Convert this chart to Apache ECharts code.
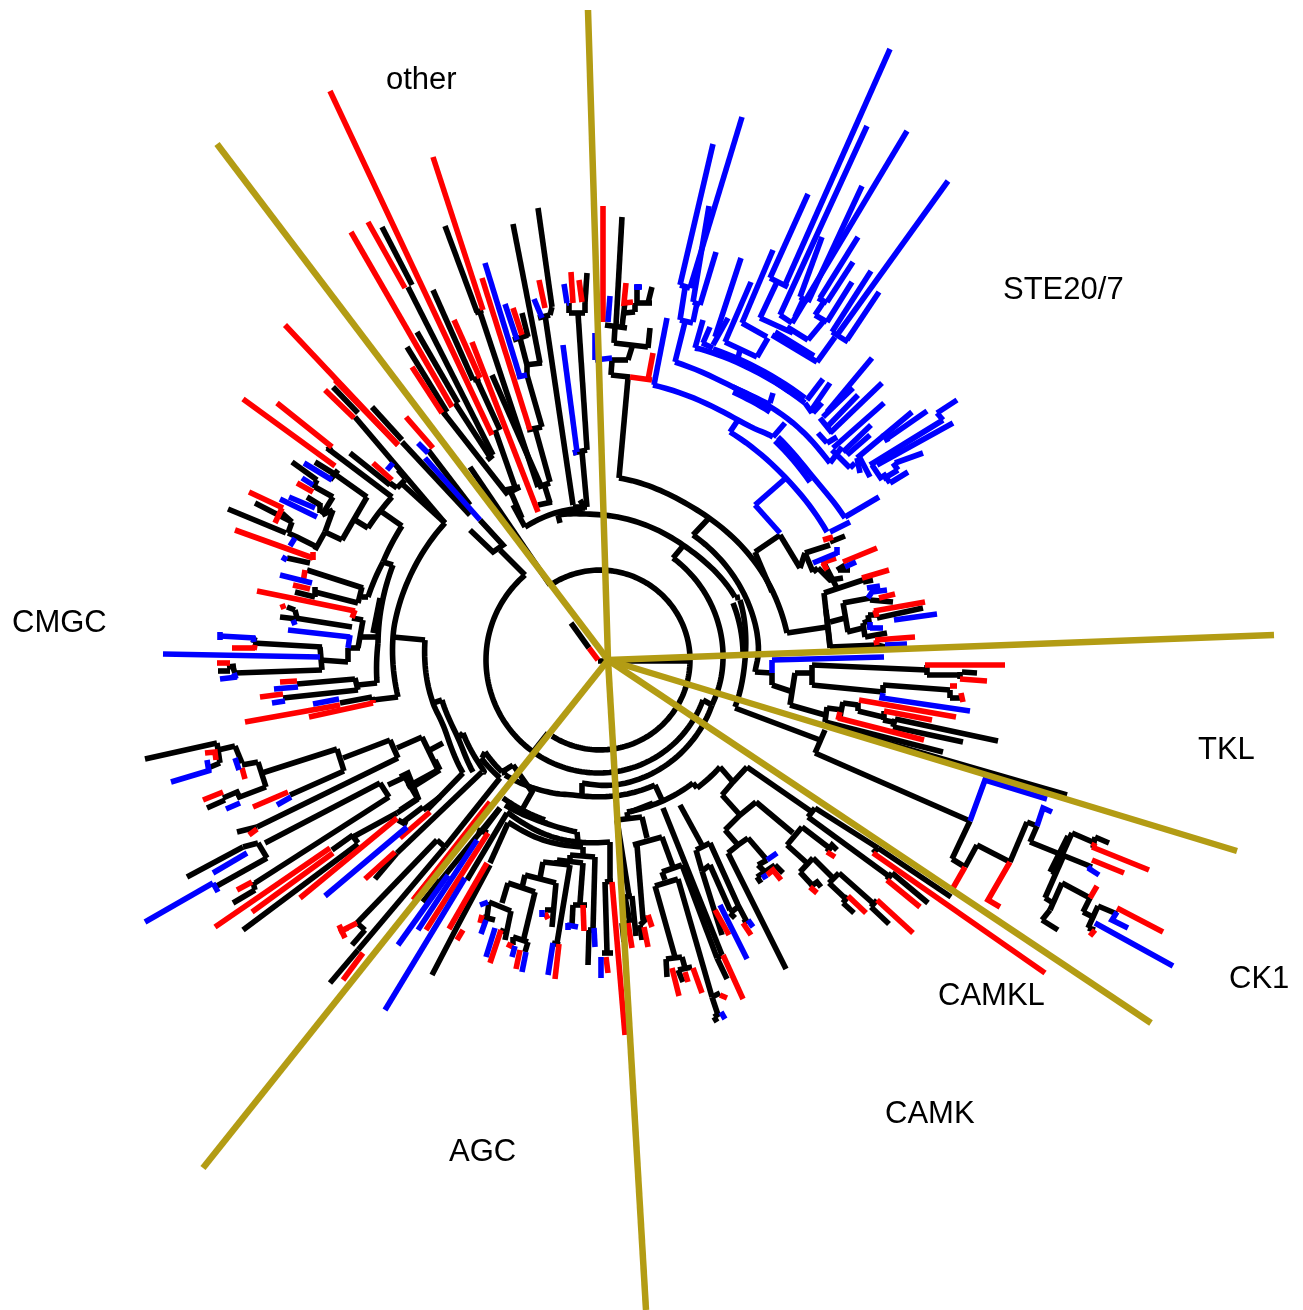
<!DOCTYPE html>
<html><head><meta charset="utf-8">
<style>html,body{margin:0;padding:0;background:#fff}#c{width:1303px;height:1310px}</style>
<script src="https://cdn.jsdelivr.net/npm/echarts@6/dist/echarts.min.js"></script></head>
<body><div id="c"></div>
<script>
const rootNode = [600,660];
const dividerHub = [608,660];
const cladeNames = ['other','STE20/7','CMGC','TKL','CK1','CAMKL','CAMK','AGC'];
const cladeLabelAt = [[386,80],[1003,290],[12,623],[1198,750],[1229,979],[938,996],[885,1114],[449,1152]];
const dividerEnds = [[588,10],[217,144],[1274,635],[1237,851],[1151,1023],[646,1310],[203,1168]];

const blackArcs = [
[690,660,552,584],
[690,660,552,736],
[673,558,723,660,712,705],
[703,700,600,773,486,660,525,575],
[712,705,630,782,582,783],
[505,775,553,793,582,796,655,785],
[627,812,693,783],
[697,788,720,767],
[558,515,603,515,683,545,735,597],
[525,527,555,513,585,508],
[619,478,697,510,773,592,787,633],
[693,535,757,633,755,672],
[740,600,745,660,735,707],
[733,603,743,653],
[398,697,393,637,397,613,413,570,445,523],
[425,640,427,680,433,703,445,730,463,773],
[442,700,458,738,473,772],
[463,733,482,768,483,772],
[485,752,502,772],
[481,758,500,778],
[503,798,545,820],
[505,805,545,823,577,832],
[507,812,547,835,578,842,610,842],
[508,822,543,840,583,847],
[378,643,377,683],
[393,565,378,643],
[383,562,368,597],
[392,497,368,528],
[402,526,383,562]
];
const blackBranches = [
[598,661,690,661],[589,648,571,623],[550,585,470,467],[548,733,533,752],[712,705,703,700],[673,558,683,546],
[582,783,582,795],[655,785,662,800],[693,783,697,788],[720,767,733,782],[722,795,733,782,747,767],
[747,767,812,812],[722,795,740,815],[725,830,740,815,756,802],[725,830,738,845],[728,853,738,845,748,838],
[728,853,786,969],[748,838,767,860],[758,865,767,860],[758,865,765,872],[757,877,775,865],[775,865,783,873],[757,877,761,883],
[756,802,793,833],[787,845,802,827],[802,827,832,850],[827,852,832,845,837,850],[787,845,807,863],[800,872,813,858],
[800,872,812,885],[810,887,817,882,821,887],[813,858,833,878],[829,883,839,873],[829,883,847,900],[843,903,848,896],[843,903,854,913],
[839,873,875,905],[871,907,877,900],[871,907,889,924],[808,817,815,808],[808,817,890,877],[887,880,892,873],[892,873,928,903],
[815,808,878,848],[873,853,878,848],[878,848,951,897],
[663,808,722,955],[680,805,703,847],[696,850,710,843],[710,843,738,905,747,922],[730,913,738,907],[730,913,735,918],[743,923,748,920],
[696,850,702,871],[702,871,710,865],[710,865,730,910],[702,871,722,935],
[682,865,717,958],[717,958,722,955],[717,958,727,979],
[630,812,653,803],[617,820,642,817],[642,817,647,838],[633,845,662,837],[662,837,673,867],[662,872,682,865],
[678,879,712,997],[712,997,720,993],[712,997,718,1015],[714,1017,720,1013],[714,1017,717,1022],
[662,872,665,880],[655,886,678,879],[655,886,675,957],[666,959,682,957],[666,959,667,977],[682,957,685,968],[678,970,692,967],[678,970,683,982],
[637,845,643,920],[640,925,648,917],[640,925,642,940],
[627,812,628,818],[617,820,629,896],[625,897,632,896],[632,896,636,936],[625,897,630,923],[622,923,630,923],[622,923,624,942],
[610,842,610,880],[605,882,613,881],[605,882,607,952],[602,953,613,953],
[583,847,583,855],[570,855,595,857],[595,857,593,930],[588,930,595,930],[589,930,588,965],
[570,855,570,862],[557,860,583,863],[583,863,580,903],[573,905,587,905],[573,905,572,925],
[557,860,557,866],[543,862,570,865],[570,865,557,943],[552,943,560,945],
[543,862,540,878],[525,875,556,883],[556,883,552,927],[545,910,555,910],
[525,875,522,888],[508,883,535,892],[535,892,523,942],[513,937,528,942],[528,942,525,952],[513,937,513,945],
[508,883,502,903],[489,902,511,911],[511,911,505,940],[500,930,508,933],[489,902,487,917],[483,917,495,920],
[513,765,532,792,523,808],[458,738,463,733],[482,758,485,752],[502,772,505,770,510,767,513,765],[503,768,505,775],
[545,820,544,825],[577,832,578,842],
[507,813,467,880],[500,808,482,832],[477,830,488,833],[508,823,490,863],[490,865,457,927,432,975],
[423,902,500,808],
[437,840,357,923],[437,840,445,847],[365,930,352,945],[357,923,365,930],[445,847,358,950],[358,950,330,983],[440,880,423,902],
[145,759,217,743],[217,743,220,763],[208,768,220,763],[218,750,235,746],[235,746,242,763],[242,765,258,762],[258,762,266,787],
[237,798,266,787],[207,808,225,800],[223,798,237,792,240,798],
[262,773,337,749],[337,749,344,771],[344,771,290,795],
[343,758,390,740],[390,740,398,758],[398,758,257,827],[257,827,237,832],
[397,748,422,737],[422,737,438,770],[438,770,407,787],[430,750,443,743],
[380,783,389,797],[380,783,265,843],[243,847,187,877],[243,847,258,843],[258,843,267,858],[267,858,215,887],
[389,797,255,883],[255,890,233,903],[253,882,255,890],
[388,785,405,777],[405,777,418,799],[418,799,397,813],[397,813,353,837],[353,835,332,850],[352,835,358,843],[358,844,243,930],
[398,820,407,825],[423,807,402,823],[440,797,423,810],[397,853,375,879],
[463,773,427,810],[482,772,397,853],[500,778,445,847],[435,760,440,770],[440,770,413,787],[400,777,408,773,418,798,400,810],
[433,703,442,700],
[340,703,372,697],[372,697,373,703],[373,700,398,697],[393,637,425,640],
[373,633,380,598],[375,633,381,600],[377,683,358,685],[355,678,358,690],[297,684,355,679],[283,698,358,690],
[383,562,393,565],[362,597,368,597],[362,587,358,603],[363,588,307,570],[310,563,287,558],[358,603,315,592],[315,587,315,597],[295,592,315,597],
[352,618,363,620],[363,620,358,648],[350,648,360,648],[348,648,348,662],[320,660,348,662],[320,647,322,670],[253,643,322,647],[322,670,235,673],
[352,627,295,618],[295,610,297,618],[295,610,287,607],[280,617,297,619],[255,637,253,643],[232,665,235,673],[227,667,236,666],[218,671,230,671],[362,637,378,637],
[382,512,402,526],[392,497,327,448],[327,450,332,447],[368,528,355,520],[367,497,342,540],[367,497,336,475],
[338,470,330,480],[315,462,336,475],[292,462,317,480],[317,480,313,488],[315,487,333,497],[333,497,322,515],[307,497,320,505],[320,503,320,513],
[342,540,325,532],[325,532,333,510],[333,510,322,515],[325,532,315,550],[317,547,297,537,288,533],[288,533,292,522],[286,533,228,509],[292,522,255,503],[282,513,292,522],
[350,453,390,485],[390,483,397,488],[397,488,405,480],[405,478,398,470],[400,482,445,523],
[333,387,358,413],[355,417,445,523],[372,407,402,440],[402,442,470,515],[428,450,470,505],
[470,530,493,552,503,545,480,520],[500,550,525,575],[513,505,525,527],[580,500,585,508],[558,515,560,523],
[433,290,473,380],[477,380,500,430],[475,313,483,310],[445,226,477,312],[480,312,538,487],
[382,227,412,285],[408,287,493,455],[487,460,493,455],[417,332,458,403],[407,347,447,412],[443,412,508,495],[455,403,490,457],[508,493,520,487],[473,380,480,378],[447,412,442,414],
[513,224,540,363],[538,208,552,307],[538,318,550,315],[545,315,573,505],[552,307,550,315],[513,340,528,335],[522,313,528,337],[520,338,527,365],[525,365,542,363],[527,365,527,375],[527,375,542,427],[527,430,542,427],[535,428,550,482],[538,487,550,483],[545,487,550,503],[492,375,542,488],[538,505,552,502],[495,430,515,487],[505,490,520,487],[510,490,522,518],
[573,453,587,450],[578,313,587,450],[582,452,587,507],[573,507,587,507],[569,313,585,313],[569,303,569,313],[585,303,585,313],[587,273,585,303],
[622,217,616,325],[605,325,627,328],[615,327,614,343],[614,343,648,347],[650,328,648,348],[632,347,628,360],[612,360,628,360],[612,360,611,375],[611,375,630,377],[628,378,619,478],
[624,313,635,312],[635,312,635,303],[635,303,652,303],[652,287,648,303],[637,288,637,303],[625,302,622,327],
[710,517,693,535],[735,598,740,597],[735,708,820,740],[755,672,772,673],
[780,535,755,552],[755,552,772,592],[772,592,773,592],[780,535,800,568],[800,568,805,553],[805,553,830,545],[830,542,845,536],[805,553,813,572],[813,572,818,568],[818,568,830,580,843,578],[838,570,850,570],[845,565,837,570],[825,565,838,590],
[787,633,827,627],[824,593,863,580],[863,582,873,580],[824,593,830,648],[826,610,830,645],[830,647,877,645],[877,645,885,647],
[830,622,845,618],[843,603,848,632],[843,603,870,598],[870,600,893,602],[847,632,863,628],[863,623,865,637],[865,637,887,633],[863,623,868,621],[868,615,870,628],[868,615,877,615],[877,618,923,608],
[812,665,927,670],[812,665,812,685],[795,673,812,673],[795,673,790,705],[772,673,772,685],[772,685,793,692],[927,665,927,675],[927,675,960,675],[962,672,977,673],[960,672,960,679],
[812,685,883,692],[883,685,883,693],[883,685,950,690],[950,690,950,698],[950,698,962,698],
[790,705,825,715],[827,707,825,722],[827,708,842,710],[843,702,840,717],[843,703,858,705],[858,703,858,711],[858,711,883,717],[884,711,884,720],[883,720,893,722],[895,719,893,727],[895,719,998,741],[893,727,963,742],[825,722,943,752],
[825,730,815,753],[815,753,970,821],[825,725,1067,795],
[970,821,952,859],[952,859,965,867],[965,867,977,845],[977,845,1010,862],[1010,862,1027,822],[1027,822,1037,826],[1037,826,1030,842],[1030,842,1092,867],[1072,833,1053,875],[1068,836,1050,872],[1072,833,1095,843],[1095,837,1093,848],[1095,837,1109,843],
[1063,857,1045,898],[1045,898,1053,903],[1062,883,1050,910],[1062,883,1090,898],[1090,898,1083,912],[1083,912,1095,918],[1098,906,1088,928],[1098,906,1117,914],[1088,928,1095,930],[1050,910,1042,920],[1042,920,1058,930]
];
const redBranches = [
[598,660,589,648],[767,875,773,870,781,880],[827,852,835,857],[810,887,817,893],[848,896,866,913],[877,900,913,933],[887,880,920,907],[873,853,1045,973],
[743,923,751,935],[715,910,729,935],[723,955,743,999],[720,995,727,998],[685,972,688,982],[693,968,702,993],[672,968,679,996],[648,915,652,927],[644,927,648,947],
[628,923,632,948],[612,882,625,1035],[606,957,608,973],[583,905,584,931],[559,944,555,979],[545,913,548,919],[520,950,516,969],[507,944,513,947],[501,930,490,963],[482,915,480,923],
[490,802,415,898],[488,833,426,930],[487,863,449,929],[463,930,457,940],
[363,953,343,980],[348,928,339,932,357,923],[339,925,345,938],[413,900,440,867],[205,753,215,752,216,760],[242,768,245,779],[203,800,223,792],[253,807,288,792],[249,835,257,829],
[237,890,252,882],[397,818,300,898],[330,848,215,927],[333,853,252,912],[430,812,400,838],[395,852,365,879],
[245,722,340,705],[309,717,373,703],[373,703,373,700],[280,682,297,681],[260,697,283,694],
[305,570,303,583],[293,585,310,589],[257,591,355,611],[352,618,355,610],[282,604,284,609],[232,648,255,648],[255,645,254,650],[217,663,230,663],
[243,399,335,466],[277,403,332,447],[297,483,313,492],[249,492,283,508],[275,523,282,508],[235,530,313,558],[313,552,313,560],
[325,390,354,418],[335,380,398,445],[406,417,433,448],[373,463,392,480],
[330,91,492,435],[433,157,483,310],[368,222,405,288],[351,232,452,407],[412,367,442,413],[454,320,480,378],[472,342,538,512],[285,325,398,445],
[482,278,530,430],[539,280,545,308],[513,308,522,335],[571,272,573,303],[579,280,582,302],[603,206,603,322],[626,283,624,303,633,302],[630,377,652,380],[653,353,648,380],
[823,540,833,537],[821,563,836,558],[823,563,827,570],[843,562,877,548],[862,578,889,570],[875,640,915,637],[876,640,877,645],[879,598,895,594],[874,611,925,602],[875,610,877,617],
[925,665,1005,665],[960,679,987,681],[950,686,957,686],[961,693,963,702],[840,712,838,720],[838,718,924,740],[859,700,956,717],[884,711,932,720],
[965,867,953,888],[1010,862,988,900,1000,907],[1092,847,1149,870],[1093,847,1095,843],[1092,860,1124,873],[1117,908,1163,932],[1090,898,1097,886],[1095,930,1090,936]
];
const blueBranches = [
[767,860,777,853],[762,878,767,875],[748,920,753,927],[720,905,747,959],[721,1012,725,1019],[601,957,601,978],[594,928,595,947],[567,925,578,927],[568,923,568,930],[553,943,548,975],[542,910,542,917],[515,946,512,957],[526,952,522,972],[495,928,486,957],[488,902,480,905],[486,920,481,934],
[477,840,418,930],[465,878,385,1010],[448,875,398,945],[407,827,325,896],
[171,782,211,770],[207,760,209,772],[235,758,239,770],[226,809,240,803],[277,805,291,797],[213,873,247,853],[145,922,213,883],[213,883,218,892],
[313,704,339,699],[274,689,298,687],[272,703,285,701],[282,557,287,560],[280,575,312,583],[288,630,350,637],[350,635,348,648],[293,620,295,625],
[220,636,255,638],[220,632,220,640],[253,636,254,642],[163,654,320,657],[220,679,237,677],[234,673,236,679],
[304,463,332,480],[302,478,313,485],[289,497,315,508],[280,499,317,517],[290,546,295,538],
[418,443,428,453],[425,458,480,520],[387,470,393,463],
[485,263,520,377],[517,377,527,375],[505,304,517,340],[534,299,542,318],[563,345,577,452],[573,453,577,452],[564,284,567,303],[567,303,569,303],
[610,296,608,322],[595,333,595,360],[595,360,612,358],[634,287,642,287],[638,284,638,290],[667,318,654,385],
[755,505,780,533],[755,505,787,477],
[837,547,837,555],[813,563,837,553],[845,567,856,562],[868,598,872,592,887,590],[867,588,880,586],[870,628,883,628],[870,622,870,630],[894,620,937,614],[885,645,907,644],
[772,660,884,657],[772,660,772,673],[883,693,882,698,970,711],
[970,821,985,780,1047,799],[1037,826,1043,808,1052,812],[1088,868,1099,875],[1092,867,1088,870],[1117,912,1112,920,1128,928],[1095,923,1173,966],
[738,420,730,432],[773,437,785,423],[773,393,770,403],[830,463,842,447],[830,532,850,522],[845,517,879,497],
[685,322,675,362],[680,285,713,144],[690,288,742,117],[680,285,690,288],[685,288,680,320],[680,320,693,323],[693,302,709,206],[700,305,716,252],[693,302,700,305],[697,303,693,322],
[703,320,695,348],[710,327,703,343],[728,318,713,345],[741,258,715,337],[751,282,725,342],[702,343,713,348],[725,342,757,357],[768,338,757,357],[740,350,738,358],[742,323,767,337],[773,250,742,323],
[808,194,770,278],[890,49,785,285],[770,278,788,287],[777,282,760,318],[760,318,793,333],[867,126,780,315],[907,131,792,323],[780,315,792,323],[822,237,800,297],[862,186,808,302],[800,297,808,302],[803,300,795,317],
[858,237,820,298],[853,262,827,302],[818,298,827,303],[823,303,815,315],[815,315,827,322],[852,282,827,322],[871,271,832,332],[948,181,837,335],[879,292,847,340],[832,332,848,342],[835,337,817,362],[808,340,823,322],[787,327,808,340],[772,335,817,362],[775,332,814,356],
[807,400,823,379],[810,412,830,383],[805,403,812,413],[813,413,822,403],[827,412,872,358],[823,417,853,388],[827,427,858,395],[830,433,882,383],[820,418,832,433],[818,433,827,443],[827,443,837,437],
[833,448,884,403],[843,452,871,425],[847,455,870,435],[832,450,850,468],[850,468,855,463],[857,458,860,473],[857,458,912,412],[883,433,888,442],[888,438,927,411],[860,458,870,477],[870,465,943,420],[937,413,943,420],[937,413,957,400],[872,465,882,480],[877,465,953,423],[883,473,890,483],[895,463,923,453],[893,463,898,470],[898,470,883,479],[890,483,908,472]
];
const blueArcs = [
[653,385,738,420,773,437],
[730,432,785,477,827,532],
[778,437,813,477,845,518],
[775,441,810,482],
[675,362,733,387,770,405],
[733,387,793,423,830,463],
[733,392,770,412],
[695,348,713,353,805,403],
[713,349,805,398],
[722,354,790,392]
];

function arcPoints(flat){
  const knots=[];
  for(let i=0;i+1<flat.length;i+=2){
    const dx=flat[i]-rootNode[0],dy=flat[i+1]-rootNode[1];
    let a=Math.atan2(dy,dx);
    if(knots.length){const prev=knots[knots.length-1][0];
      while(a-prev>Math.PI)a-=2*Math.PI;while(a-prev<-Math.PI)a+=2*Math.PI;}
    knots.push([a,Math.hypot(dx,dy)]);
  }
  const out=[],n=knots.length;
  const cr=(p0,p1,p2,p3,t)=>0.5*((2*p1)+(-p0+p2)*t+(2*p0-5*p1+4*p2-p3)*t*t+(-p0+3*p1-3*p2+p3)*t*t*t);
  for(let i=0;i<n-1;i++){
    const k1=knots[i],k2=knots[i+1];
    const k0=i>0?knots[i-1]:[2*k1[0]-k2[0],2*k1[1]-k2[1]];
    const k3=i+2<n?knots[i+2]:[2*k2[0]-k1[0],2*k2[1]-k1[1]];
    const steps=Math.max(8,Math.ceil(Math.abs(k2[0]-k1[0])*40));
    for(let s=0;s<=steps;s++){const t=s/steps;
      const a=cr(k0[0],k1[0],k2[0],k3[0],t),r=cr(k0[1],k1[1],k2[1],k3[1],t);
      out.push([rootNode[0]+r*Math.cos(a),rootNode[1]+r*Math.sin(a)]);}
  }
  return out;
}
function linePoints(flat){const o=[];for(let i=0;i+1<flat.length;i+=2)o.push([flat[i],flat[i+1]]);return o;}
function pathSeries(paths,color,width){
  return {type:'custom',coordinateSystem:'cartesian2d',silent:true,clip:false,animation:false,
    data:paths.map((p,i)=>[i]),encode:{x:0,y:0},
    renderItem:(params,api)=>({type:'polyline',
      shape:{points:paths[params.dataIndex].map(q=>api.coord(q))},
      style:{fill:'none',stroke:color,lineWidth:width,lineCap:'butt',lineJoin:'miter',miterLimit:4}})};
}
const black=[...blackArcs.map(arcPoints),...blackBranches.map(linePoints)];
const red=redBranches.map(linePoints);
const blue=[...blueArcs.map(arcPoints),...blueBranches.map(linePoints)];
const gold=dividerEnds.map(e=>[dividerHub,e]);
const chart=echarts.init(document.getElementById('c'),null,{renderer:'canvas'});
chart.setOption({
  animation:false,backgroundColor:'#fff',
  grid:{left:0,right:0,top:0,bottom:0},
  xAxis:{type:'value',min:0,max:1303,show:false},
  yAxis:{type:'value',min:0,max:1310,inverse:true,show:false},
  series:[
    pathSeries(black,'#000',5.6),
    pathSeries(red,'#ff0000',5.6),
    pathSeries(blue,'#0000ff',5.6),
    pathSeries(gold,'#b39c14',6.5),
    {type:'scatter',symbolSize:0,silent:true,animation:false,itemStyle:{opacity:1},
     data:cladeLabelAt.map((p,i)=>({value:p,name:cladeNames[i]})),
     label:{show:true,position:'right',distance:0,opacity:1,formatter:'{b}',color:'#000',fontFamily:'Liberation Sans',fontSize:31}}
  ]
});
</script></body></html>
